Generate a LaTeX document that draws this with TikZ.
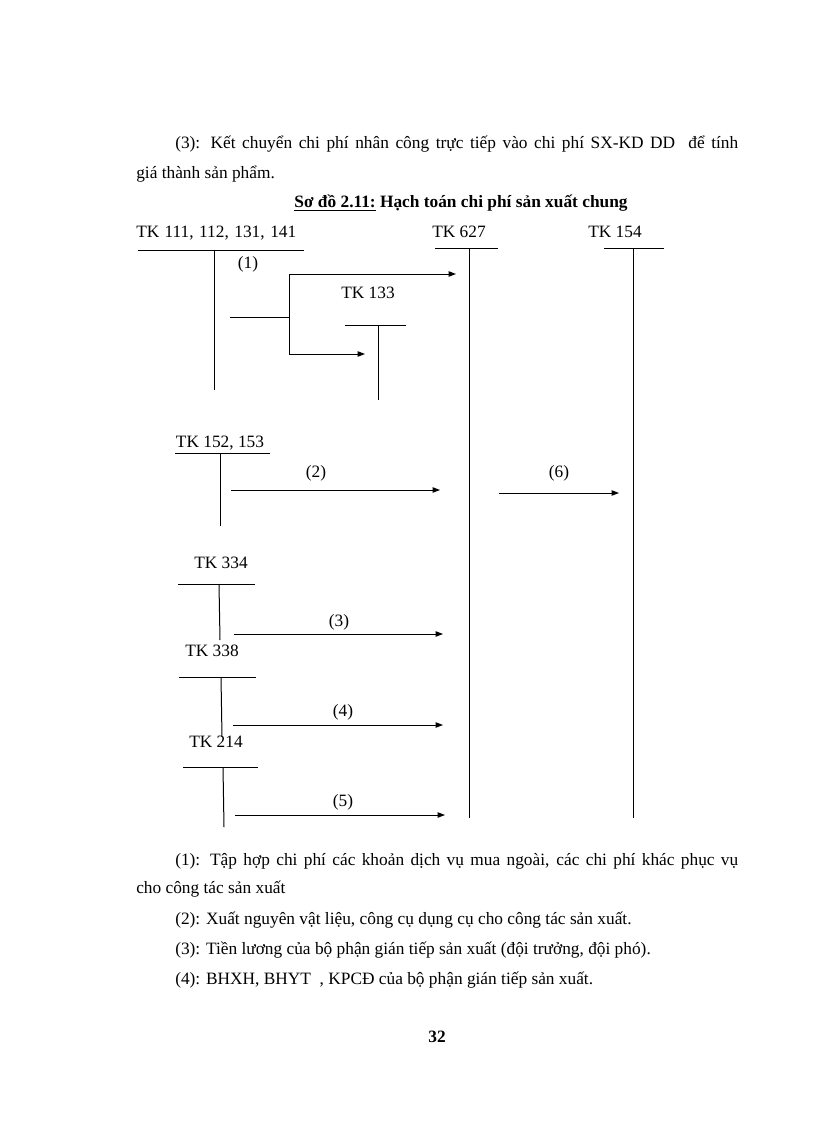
\documentclass[tikz,border=0pt]{standalone}
\usepackage{fontspec}
\setmainfont{Liberation Serif}
\usetikzlibrary{arrows.meta}
\begin{document}
\begin{tikzpicture}[x=0.75pt,y=-0.75pt,
  ln/.style={line width=0.75pt},
  arr/.style={line width=0.75pt,-{Triangle[length=5.5pt,width=4pt]}},
  lbl/.style={inner sep=0pt,anchor=base,font=\fontsize{13}{15}\selectfont},
  txt/.style={inner sep=0pt,anchor=base west,font=\fontsize{13}{15}\selectfont}]
\useasboundingbox[fill=white] (0,0) rectangle (816,1123);

% top text
\node[txt] (t1) at (175,149) {\makebox[422.25pt][s]{(3): Kết chuyển chi phí nhân công trực tiếp vào chi phí SX-KD DD \ để tính}};
\node[txt] (t2) at (136,179) {giá thành sản phẩm.};
\node[lbl,font=\fontsize{13}{15}\selectfont\bfseries] (title) at (461,208) {\underline{Sơ đồ 2.11:} Hạch toán chi phí sản xuất chung};

% account labels
\node[txt] (k111) at (136,238) {\makebox[120pt][s]{TK 111, 112, 131, 141}};
\node[txt] (k627) at (432,238) {TK 627};
\node[txt] (k154) at (588,238) {TK 154};
\node[lbl] (k133) at (368,298) {TK 133};
\node[lbl] (k152) at (220,447) {TK 152, 153};
\node[lbl] (k334) at (221,568) {TK 334};
\node[lbl] (k338) at (212,656) {TK 338};
\node[lbl] (k214) at (216,747) {TK 214};

% T-account coordinates
\coordinate (a1L) at (138,250); \coordinate (a1R) at (304,250);
\coordinate (a1T) at (214,250); \coordinate (a1B) at (214,390);
\coordinate (a2L) at (435,248); \coordinate (a2R) at (498,248);
\coordinate (a2T) at (469,248); \coordinate (a2B) at (469,818);
\coordinate (a3L) at (604,248); \coordinate (a3R) at (664,248);
\coordinate (a3T) at (633,248); \coordinate (a3B) at (633,818);
\coordinate (a4L) at (345,325); \coordinate (a4R) at (406,325);
\coordinate (a4T) at (378,325); \coordinate (a4B) at (378,400);
\coordinate (a5L) at (175,453); \coordinate (a5R) at (270,453);
\coordinate (a5T) at (220,453); \coordinate (a5B) at (220,526);
\coordinate (a6L) at (178,584); \coordinate (a6R) at (255,584);
\coordinate (a6T) at (219,584); \coordinate (a6B) at (220,640);
\coordinate (a7L) at (179,677); \coordinate (a7R) at (256,677);
\coordinate (a7T) at (221,677); \coordinate (a7B) at (222,737);
\coordinate (a8L) at (183,767); \coordinate (a8R) at (258,767);
\coordinate (a8T) at (223,767); \coordinate (a8B) at (224,827);
\foreach \a in {a1,a2,a3,a4,a5,a6,a7,a8}{
  \draw[ln] (\a L) -- (\a R);
  \draw[ln] (\a T) -- (\a B);
}

% connectors
\coordinate (b0) at (230,317);
\coordinate (b1) at (289,317);
\coordinate (b1u) at (289,274);
\coordinate (b1d) at (289,354);
\coordinate (e1) at (456,274);
\coordinate (e133) at (365,354);
\draw[ln] (b0) -- (b1);
\draw[ln] (b1u) -- (b1d);
\draw[arr] (b1u) -- (e1);
\draw[arr] (b1d) -- (e133);
\node[lbl] (n1) at (248,268) {(1)};

\coordinate (s2) at (231,490); \coordinate (e2) at (440,490);
\draw[arr] (s2) -- (e2);
\node[lbl] (n2) at (316,477) {(2)};

\coordinate (s6) at (499,493); \coordinate (e6) at (619,493);
\draw[arr] (s6) -- (e6);
\node[lbl] (n6) at (559,477) {(6)};

\coordinate (s3) at (234,634); \coordinate (e3) at (443,634);
\draw[arr] (s3) -- (e3);
\node[lbl] (n3) at (339,626) {(3)};

\coordinate (s4) at (233,725); \coordinate (e4) at (443,725);
\draw[arr] (s4) -- (e4);
\node[lbl] (n4) at (343,716) {(4)};

\coordinate (s5) at (235,815); \coordinate (e5) at (445,815);
\draw[arr] (s5) -- (e5);
\node[lbl] (n5) at (343,806) {(5)};

% bottom text
\node[txt] (b1t) at (175,865) {\makebox[422.25pt][s]{(1): Tập hợp chi phí các khoản dịch vụ mua ngoài, các chi phí khác phục vụ}};
\node[txt] (b2t) at (136,893) {cho công tác sản xuất};
\node[txt] (b3t) at (175,924) {(2): Xuất nguyên vật liệu, công cụ dụng cụ cho công tác sản xuất.};
\node[txt] (b4t) at (175,954) {(3): Tiền lương của bộ phận gián tiếp sản xuất (đội trưởng, đội phó).};
\node[txt] (b5t) at (175,984) {(4): BHXH, BHYT \ , KPCĐ của bộ phận gián tiếp sản xuất.};
\node[lbl,font=\fontsize{13}{15}\selectfont\bfseries] (pg) at (437,1042) {32};
\end{tikzpicture}
\end{document}
